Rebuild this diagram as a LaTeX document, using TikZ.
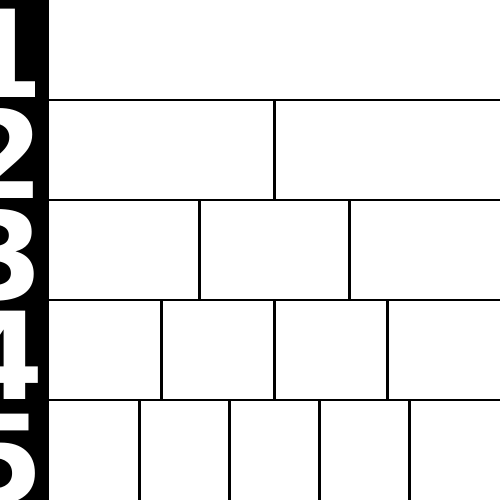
\documentclass[tikz,border=0pt]{standalone}
\usepackage{fontspec}
\setmainfont{DejaVu Sans}
\usepackage{tikz}

\tikzset{
    rowline/.style={line width=1.5pt},
    digit/.style={text=white, inner sep=0pt, anchor=base east,
        font=\fontsize{69}{69}\selectfont\bfseries}
}

\begin{document}
\begin{tikzpicture}[x=0.02cm, y=-0.02cm]
    \useasboundingbox (0,0) rectangle (500,500);
    \clip (0,0) rectangle (500,500);
    \fill[white] (0,0) rectangle (500,500);
    \fill[black] (0,0) rectangle (49,500);

    % row numbers
    \foreach \k/\b in {1/97, 2/198, 3/299, 4/399, 5/502}
        \node[digit] (num\k) at (44,\b) {\k};

    % row borders and cell borders
    \foreach \k in {1,...,4}
        \draw[rowline] (49,100*\k) -- (500,100*\k);
    \foreach \k in {2,...,5}
        \foreach \j in {2,...,\k}
            \draw[rowline] ({49+(\j-1)*451/\k},{100*(\k-1)}) -- ({49+(\j-1)*451/\k},{100*\k});
\end{tikzpicture}
\end{document}
